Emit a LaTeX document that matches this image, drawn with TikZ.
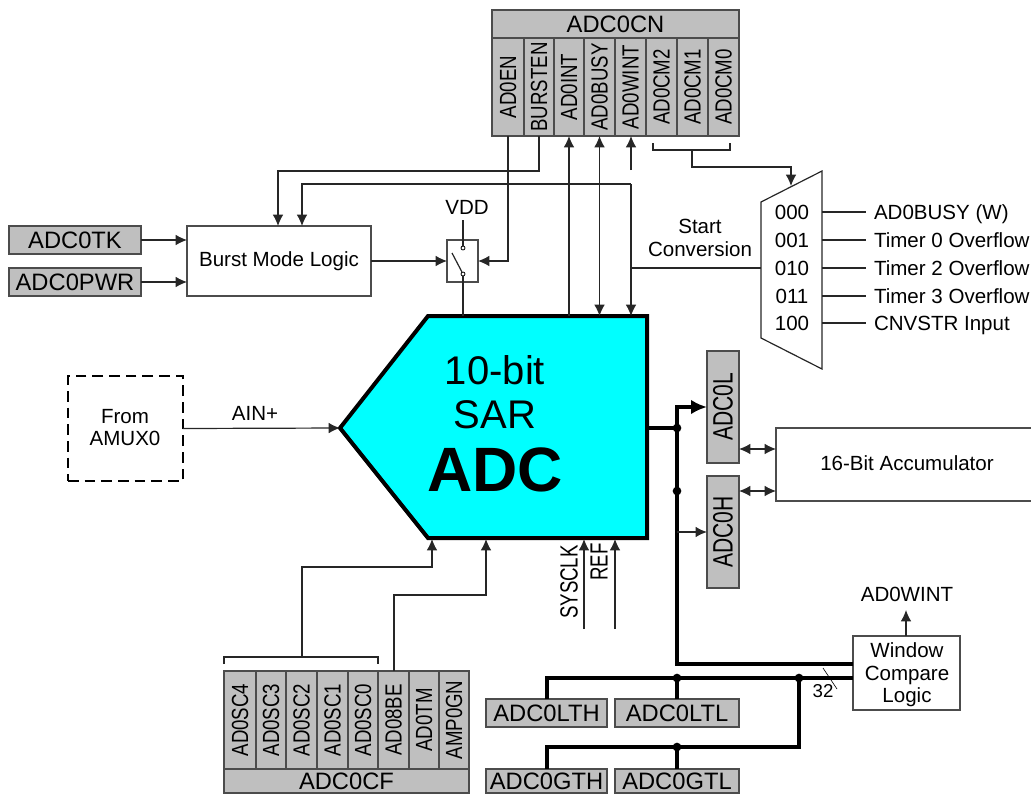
\documentclass[tikz,border=0pt]{standalone}
\usepackage{fontspec}
\setmainfont{Liberation Sans}
\usetikzlibrary{arrows.meta}
\definecolor{adccyan}{rgb}{0,1,1}
\newcommand{\bx}[7]{%
  \pgfmathsetmacro\bxcx{(#2+#4)/2}\pgfmathsetmacro\bxcy{(#3+#5)/2}%
  \pgfmathsetmacro\bxw{(#4-#2)*.75}\pgfmathsetmacro\bxh{(#5-#3)*.75}%
  \node[#6,minimum width=\bxw pt,minimum height=\bxh pt] (#1) at (\bxcx,\bxcy) {#7};}
\newcommand{\vt}[1]{\rotatebox{90}{\scalebox{1}[1.25]{#1}}}
\newcommand{\vtb}[1]{\rotatebox{90}{\scalebox{1}[1.33]{#1}}}
\newcommand{\fa}{\fontsize{15.4pt}{18pt}\selectfont}
\newcommand{\fb}{\fontsize{14pt}{16pt}\selectfont}
\newcommand{\fc}{\fontsize{17.8pt}{20pt}\selectfont}
\newcommand{\fd}{\fontsize{15.8pt}{18pt}\selectfont}
\tikzset{
  base/.style={inner sep=0pt,outer sep=0pt},
  gbox/.style={base,draw=black!70,fill=gray!50,line width=1pt},
  wbox/.style={base,draw=black!70,fill=white,line width=1pt},
  lbl/.style={base,font=\fa,text height=11pt,text depth=0pt},
  capbox/.style={gbox,font=\fc,text height=12.7pt,text depth=0pt},
  cellb/.style={gbox,font=\fb},
  ln/.style={line width=.9pt,draw=black!85},
  arr/.style={ln,-{Latex[length=8.5pt,width=8pt]}},
  arrb/.style={ln,{Latex[length=8.5pt,width=8pt]}-{Latex[length=8.5pt,width=8pt]}},
  arrr/.style={ln,{Latex[length=8.5pt,width=8pt]}-},
  bus/.style={line width=3pt,draw=black,line join=miter},
  dotn/.style={circle,fill=black,inner sep=0pt,minimum size=6.5pt},
  contact/.style={circle,draw=black,fill=white,inner sep=0pt,minimum size=3pt,line width=.6pt},
}
\begin{document}
\begin{tikzpicture}[x=.75pt,y=-.75pt]
\useasboundingbox (0,0) rectangle (1031,793);
% ADC body
\coordinate (adcTL) at (428,316);
\coordinate (adcTR) at (647,316);
\coordinate (adcBR) at (647,538);
\coordinate (adcBL) at (428,538);
\coordinate (adcTip) at (340,428);
\filldraw[fill=adccyan,draw=black,line width=3pt,line join=miter] (adcTL)--(adcTR)--(adcBR)--(adcBL)--(adcTip)--cycle;
\node[base,font=\fontsize{30pt}{32pt}\selectfont,text height=21.5pt,text depth=0pt] (t10) at (495,370) {10-bit};
\node[base,font=\fontsize{30pt}{32pt}\selectfont,text height=21.5pt,text depth=0pt] (tsar) at (495,414) {SAR};
\node[base,font=\fontsize{47pt}{50pt}\selectfont\bfseries,text height=33.7pt,text depth=0pt] (tadc) at (495,469) {ADC};
% ADC0CN
\bx{cnh}{492}{10}{739}{38}{capbox}{ADC0CN}
\bx{aden}{492}{38}{524}{136}{cellb}{\vt{AD0EN}}
\bx{burs}{524}{38}{554}{136}{cellb}{\vt{BURSTEN}}
\bx{adint}{554}{38}{584}{136}{cellb}{\vt{AD0INT}}
\bx{adbusy}{584}{38}{615}{136}{cellb}{\vt{AD0BUSY}}
\bx{adwint}{615}{38}{646}{136}{cellb}{\vt{AD0WINT}}
\bx{cm2}{646}{38}{677}{136}{cellb}{\vt{AD0CM2}}
\bx{cm1}{677}{38}{708}{136}{cellb}{\vt{AD0CM1}}
\bx{cm0}{708}{38}{739}{136}{cellb}{\vt{AD0CM0}}
% Left boxes
\bx{tk}{9}{226}{141}{254}{capbox}{ADC0TK}
\bx{pwr}{9}{268}{141}{296}{capbox}{ADC0PWR}
\bx{burst}{187}{226}{371}{296}{wbox,font=\fa}{Burst Mode Logic}
\bx{sw}{447}{240}{478}{282}{wbox}{}
\node[lbl] (vdd) at (467,207) {VDD};
\coordinate (vddS) at (463,220);
\node[contact] (c1) at (463,248) {};
\node[contact] (c2) at (463,274) {};
\coordinate (bladeA) at (452,253);
\draw[ln] (bladeA) -- (c2);
\draw[ln] (vddS) -- (c1);
\coordinate (swOut) at (463,316);
\draw[ln] (c2) -- (swOut);
\draw[arr] (tk.east) -- (tk.east -| burst.west);
\draw[arr] (pwr.east) -- (pwr.east -| burst.west);
\draw[arr] (burst.east |- sw.west) -- (sw.west);
\coordinate (b1) at (278,226);
\coordinate (b2) at (302,226);
\coordinate (k2) at (631,184);
\draw[arr] (burs.south) |- (278,171) -- (b1);
\draw[arr] (k2) -- (302,184) -- (b2);
\draw[arr] (aden.south) |- (sw.east);
% Vertical arrows to ADC
\draw[arrr] (adint.south) -- (adint.south |- adcTL);
\draw[arrb] (adbusy.south) -- (adbusy.south |- adcTL);
\coordinate (wintS) at (631,170);
\draw[arr] (wintS) -- (631,136);
\draw[arr] (k2) -- (631,316);
% Mux
\coordinate (mTL) at (761,202);
\coordinate (mTR) at (822,171);
\coordinate (mBR) at (822,369);
\coordinate (mBL) at (761,338);
\draw[ln,line join=miter] (mTL)--(mTR)--(mBR)--(mBL)--cycle;
\coordinate (mS) at (761,268);
\coordinate (kS) at (631,268);
\draw[ln] (kS) -- (mS);
\node[lbl] (st1) at (700,226) {Start};
\node[lbl] (st2) at (700,249) {Conversion};
\coordinate (br1) at (653,143);
\coordinate (br2) at (653,150);
\coordinate (br3) at (730,150);
\coordinate (br4) at (730,143);
\coordinate (brm) at (692,150);
\coordinate (mIn) at (791,186);
\draw[ln] (br1)--(br2)--(br3)--(br4);
\draw[arr] (brm) |- (791,167) -- (mIn);
\foreach \n/\y/\code/\t in {m0/212/000/AD0BUSY (W),m1/240/001/Timer 0 Overflow,m2/268/010/Timer 2 Overflow,m3/296/011/Timer 3 Overflow,m4/323/100/CNVSTR Input}{
  \node[lbl] (\n c) at (792,\y) {\code};
  \node[lbl,anchor=west] (\n t) at (874,\y) {\t};
  \coordinate (\n a) at (822,\y);
  \coordinate (\n b) at (866,\y);
  \draw[ln] (\n a) -- (\n b);
}
% AMUX
\bx{amux}{68}{376}{183}{481}{base,draw=black,line width=1.9pt,dash pattern=on 8pt off 4.5pt}{}
\node[lbl] (from) at (125,416) {From};
\node[lbl] (amuxt) at (125,438) {AMUX0};
\node[lbl] (ain) at (255,413) {AIN+};
\draw[arr] (amux.east) -- (adcTip);
% ADC0CF
\bx{sc4}{224}{671}{256}{769}{cellb}{\vt{AD0SC4}}
\bx{sc3}{256}{671}{286}{769}{cellb}{\vt{AD0SC3}}
\bx{sc2}{286}{671}{317}{769}{cellb}{\vt{AD0SC2}}
\bx{sc1}{317}{671}{348}{769}{cellb}{\vt{AD0SC1}}
\bx{sc0}{348}{671}{378}{769}{cellb}{\vt{AD0SC0}}
\bx{be}{378}{671}{409}{769}{cellb}{\vt{AD08BE}}
\bx{tm}{409}{671}{439}{769}{cellb}{\vt{AD0TM}}
\bx{gn}{439}{671}{469}{769}{cellb}{\vt{AMP0GN}}
\bx{cfh}{224}{769}{469}{793}{capbox}{ADC0CF}
\coordinate (cb1) at (224,664);
\coordinate (cb2) at (224,657);
\coordinate (cb3) at (378,657);
\coordinate (cb4) at (378,664);
\coordinate (cbm) at (302,657);
\draw[ln] (cb1)--(cb2)--(cb3)--(cb4);
\coordinate (a1) at (432,539);
\coordinate (a2) at (486,539);
\draw[arr] (cbm) |- (432,567) -- (a1);
\draw[arr] (be.north -| 394,0) |- (486,595) -- (a2);
\coordinate (sysS) at (584,629);
\coordinate (sysE) at (584,539);
\coordinate (refS) at (615,629);
\coordinate (refE) at (615,539);
\draw[arr] (sysS) -- (sysE);
\draw[arr] (refS) -- (refE);
\node[base,font=\fb] (sysl) at (569,582) {\vtb{SYSCLK}};
\node[base,font=\fb] (refl) at (599,562) {\vtb{REF}};
% Data registers
\bx{adl}{707}{351}{739}{463}{gbox,font=\fd}{\vtb{ADC0L}}
\bx{adh}{707}{476}{739}{588}{gbox,font=\fd}{\vtb{ADC0H}}
\bx{acc}{776}{428}{1031}{501}{base}{}
\draw[ln,draw=black!70] (acc.north east)--(acc.north west)--(acc.south west)--(acc.south east);
\node[lbl] (acct) at (907,463) {16-Bit Accumulator};
\coordinate (acc1) at (776,449);
\coordinate (acc2) at (776,491);
\draw[arrb] (adl.east |- acc1) -- (acc1);
\draw[arrb] (adh.east |- acc2) -- (acc2);
% Window compare
\bx{win}{853}{636}{960}{710}{wbox}{}
\node[lbl] (w1) at (907,650) {Window};
\node[lbl] (w2t) at (907,673) {Compare};
\node[lbl] (w3) at (907,695) {Logic};
\node[lbl] (wint) at (907,594) {AD0WINT};
\coordinate (winA) at (906,636);
\coordinate (winB) at (906,610);
\draw[arr] (winA) -- (winB);
% Compare registers
\bx{lth}{486}{699}{607}{727}{capbox}{ADC0LTH}
\bx{ltl}{615}{699}{739}{727}{capbox}{ADC0LTL}
\bx{gth}{486}{769}{607}{793}{capbox}{ADC0GTH}
\bx{gtl}{615}{769}{739}{793}{capbox}{ADC0GTL}
% Buses
\coordinate (j1) at (677,428);
\coordinate (j2) at (677,491);
\coordinate (j3) at (677,664);
\coordinate (j4) at (677,407);
\coordinate (w1p) at (853,664);
\coordinate (w2p) at (853,678);
\coordinate (j5) at (799,678);
\coordinate (j6) at (799,747);
\draw[bus] (adcBR |- j1) -- (j1);
\draw[bus,-{Latex[length=12pt,width=11pt]}] (j1) -- (j4) -- (adl.west);
\draw[bus] (j1) -- (j3) -- (w1p);
\draw[arr,line width=1.2pt] (adh.west -| j2) -- (adh.west);
\draw[bus] (lth.north) |- (w2p);
\draw[bus] (j5) -- (j6) -- (gth.north |- j6) -- (gth.north);
\draw[bus] (ltl.north) -- (ltl.north |- w2p);
\draw[bus] (gtl.north) -- (gtl.north |- j6);
\node[dotn] (d1) at (j1) {};
\node[dotn] (d2) at (j2) {};
\node[dotn] (d3) at (ltl.north |- w2p) {};
\node[dotn] (d4) at (j5) {};
\node[dotn] (d5) at (gtl.north |- j6) {};
\coordinate (sl1) at (823,668);
\coordinate (sl2) at (837,689);
\draw[line width=.5pt] (sl1) -- (sl2);
\node[base,font=\fb,text height=10pt,text depth=0pt] (n32) at (823,691) {32};
\end{tikzpicture}
\end{document}
